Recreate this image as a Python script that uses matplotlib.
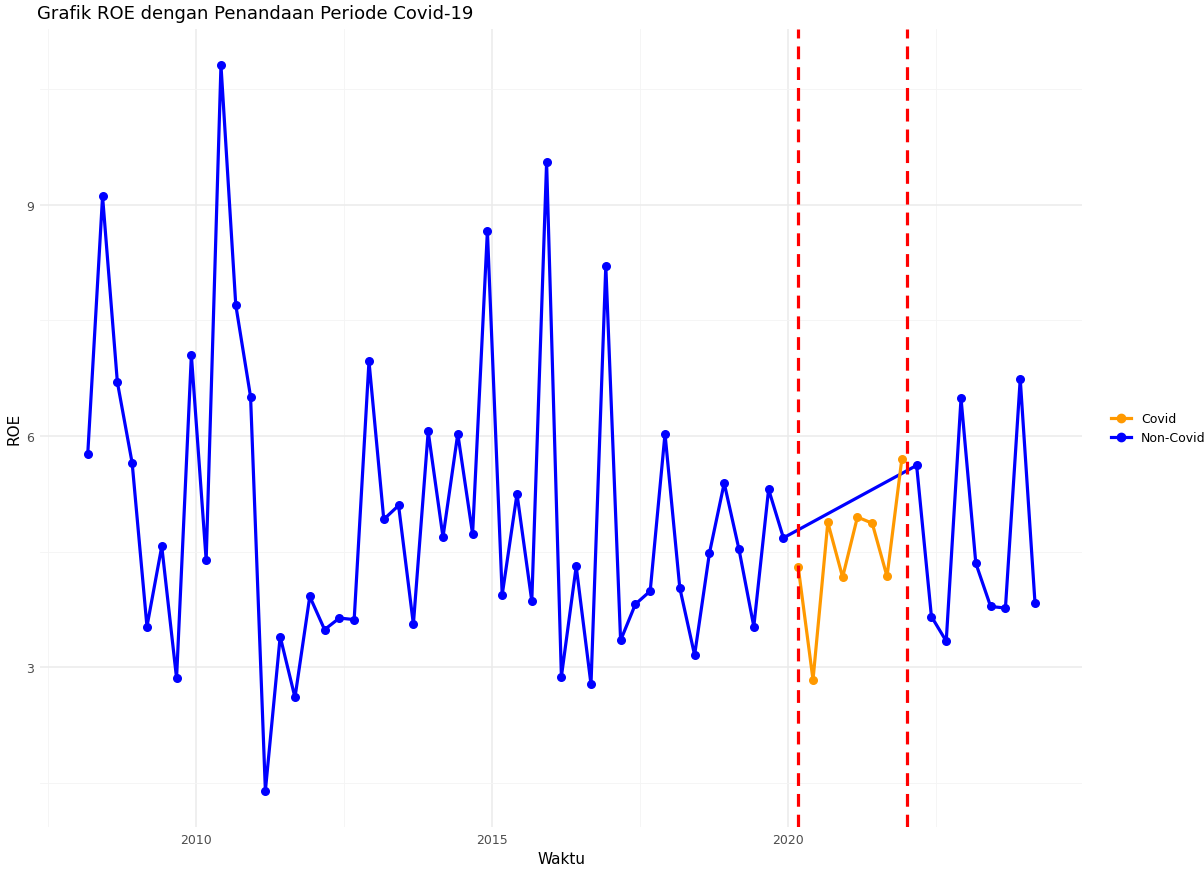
import numpy as np
import matplotlib.pyplot as plt
from matplotlib.lines import Line2D

# quarterly dates as fractional years (2008-03 .. 2024-03)
start = 2008 + 2/12
pre_roe = [5.77, 9.11, 6.70, 5.65, 3.53, 4.57, 2.86, 7.05, 4.39, 10.81, 7.70, 6.51,
           1.40, 3.40, 2.61, 3.92, 3.49, 3.64, 3.62, 6.97, 4.92, 5.10, 3.56, 6.06,
           4.69, 6.03, 4.73, 8.66, 3.94, 5.25, 3.86, 9.55, 2.88, 4.31, 2.78, 8.21,
           3.35, 3.82, 3.99, 6.03, 4.03, 3.16, 4.48, 5.39, 4.53, 3.53, 5.31, 4.68]
covid_roe = [4.30, 2.84, 4.88, 4.17, 4.95, 4.87, 4.18, 5.70]
post_roe = [5.62, 3.66, 3.34, 6.49, 4.35, 3.79, 3.77, 6.74, 3.83]
covid_start, covid_end = 2020 + 2/12, 2022.0

n_pre, n_cov, n_post = len(pre_roe), len(covid_roe), len(post_roe)
t_all = start + 0.25 * np.arange(n_pre + n_cov + n_post)
t_pre = t_all[:n_pre]
t_cov = t_all[n_pre:n_pre + n_cov]
t_post = t_all[n_pre + n_cov:]

fig = plt.figure(figsize=(12.04, 8.7), dpi=100)
ax = fig.add_axes([40/1204, 1 - 828/870, (1082-40)/1204, (828-30)/870])

blue, orange = '#0000FF', '#FF9900'
ax.plot(np.r_[t_pre, t_post], pre_roe + post_roe, color=blue, lw=2.3, zorder=3)
ax.scatter(np.r_[t_pre, t_post], pre_roe + post_roe, color=blue, s=30, zorder=4)
ax.plot(t_cov, covid_roe, color=orange, lw=2.3, zorder=3)
ax.scatter(t_cov, covid_roe, color=orange, s=30, zorder=4)

for v in [covid_start, covid_end]:
    ax.axvline(v, color='red', lw=2.3, ls=(0, (4, 2.5)), zorder=5)

ax.set_xlim(2007.36, 2024.96)
ax.set_ylim(0.93, 11.28)
ax.set_xticks([2010, 2015, 2020])
ax.set_xticks([2007.5, 2012.5, 2017.5, 2022.5], minor=True)
ax.set_yticks([3, 6, 9])
ax.set_yticks([1.5, 4.5, 7.5, 10.5], minor=True)
ax.grid(which='major', color='#EBEBEB', lw=1.1)
ax.grid(which='minor', color='#F4F4F4', lw=0.6)
ax.set_axisbelow(True)
for s in ax.spines.values():
    s.set_visible(False)
ax.tick_params(which='both', length=0, labelsize=9, labelcolor='#4D4D4D', pad=4)

ax.set_xlabel('Waktu', fontsize=11)
ax.set_ylabel('ROE', fontsize=11)
fig.text(37/1204, 1 - 14/870, 'Grafik ROE dengan Penandaan Periode Covid-19',
         fontsize=13, va='center', ha='left')

handles = [Line2D([], [], color=orange, lw=2.3, marker='o', ms=6),
           Line2D([], [], color=blue, lw=2.3, marker='o', ms=6)]
fig.legend(handles, ['Covid', 'Non-Covid'], loc='center left',
           bbox_to_anchor=(1100/1204, 1 - 429/870), frameon=False,
           fontsize=9, handlelength=1.6)

fig.savefig('out.png', dpi=100)
